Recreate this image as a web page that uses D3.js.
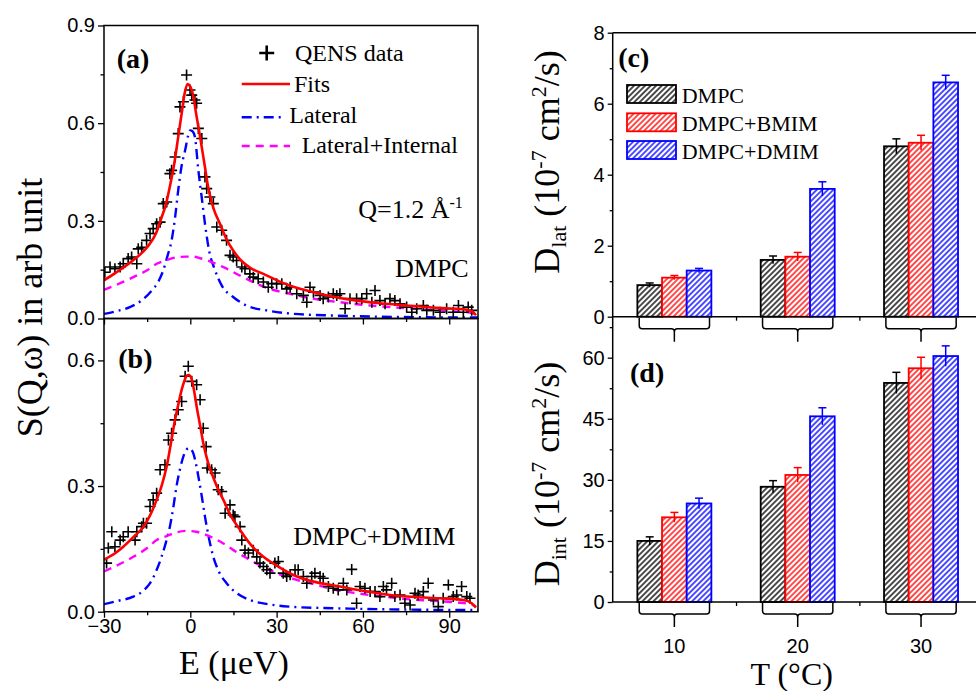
<!DOCTYPE html>
<html><head><meta charset="utf-8">
<script src="https://cdn.jsdelivr.net/npm/d3@7"></script>
<style>body{margin:0;background:#fff}svg{display:block}</style>
</head><body>
<svg id="chart" width="976" height="691"></svg>
<script>
// ---------- Panel (a): DMPC QENS spectrum ----------
const dataA_E = [-29.7,-27.9,-26.2,-24.4,-23.3,-21.6,-20.4,-18.6,-18.1,-16.9,
 -15.2,-14.0,-12.9,-11.7,-10.5,-9.4,-8.2,-7.1,-6.5,-5.3,
 -4.2,-3.6,-2.4,-1.3,-0.1,0.5,1.6,2.2,2.8,4.0,
 5.1,5.7,6.8,8.0,9.2,10.9,12.6,13.8,14.9,16.1,
 17.9,19.0,20.7,21.9,23.6,25.4,27.1,28.3,30.0,31.8,
 33.5,34.7,37.0,39.3,40.5,41.6,42.8,45.1,46.2,48.0,
 49.7,50.9,52.0,53.8,55.5,57.8,59.6,61.3,63.1,64.2,
 65.9,67.7,69.4,71.1,72.9,75.2,77.0,78.7,81.0,82.2,
 84.5,86.8,89.1,91.4,93.2,94.9,96.6,97.8];
const dataA_S = [0.142,0.158,0.153,0.158,0.168,0.184,0.189,0.168,0.214,0.219,
 0.240,0.261,0.276,0.291,0.296,0.353,0.358,0.445,0.455,0.496,
 0.568,0.650,0.666,0.748,0.702,0.686,0.671,0.661,0.584,0.553,
 0.435,0.399,0.373,0.353,0.281,0.271,0.240,0.194,0.189,0.178,
 0.158,0.153,0.137,0.127,0.122,0.112,0.096,0.107,0.107,0.107,
 0.091,0.096,0.076,0.071,0.050,0.096,0.081,0.071,0.061,0.066,
 0.076,0.071,0.076,0.030,0.061,0.061,0.061,0.076,0.050,0.086,
 0.055,0.045,0.061,0.055,0.045,0.035,0.019,0.030,0.040,0.025,
 0.025,0.019,0.030,0.019,0.040,0.019,0.035,0.025];
const fitA_E = [-30,-26,-23,-19,-15,-12,-10,-8.5,-7,-5.5,-4.2,-3,-2,-1,0,1,2,3.4,5,6.2,8,10.3,12.5,14.9,18,21,25.4,30,35,40.5,48,57.8,66,75.2,84,92.6,96,98,99.3];
const fitA_S = [0.117,0.14,0.158,0.185,0.219,0.26,0.31,0.35,0.41,0.48,0.558,0.63,0.69,0.72,0.712,0.685,0.63,0.558,0.47,0.404,0.34,0.291,0.245,0.209,0.175,0.155,0.137,0.118,0.10,0.086,0.07,0.055,0.047,0.04,0.034,0.03,0.027,0.022,0.01];
const latA_E = [-30,-25,-21,-17,-13.4,-11,-9.4,-8,-6.5,-5.3,-4.2,-3,-1.8,-0.8,0,0.8,1.6,2.8,4,5.1,6.5,8.6,11,14.9,20,26.5,35,50,70,100];
const latA_S = [0.014,0.024,0.035,0.055,0.086,0.115,0.148,0.19,0.24,0.31,0.394,0.47,0.517,0.56,0.578,0.575,0.558,0.455,0.37,0.291,0.21,0.148,0.10,0.066,0.038,0.025,0.015,0.009,0.005,0.003];
const intA_E = [-30,-25,-19.8,-15,-11.7,-8,-4.8,-1.3,1,3.4,7,11.5,17,23.1,28,34.7,42,52,60,69.4,78,86.8,92,97.2,99.3];
const intA_S = [0.088,0.106,0.127,0.148,0.168,0.18,0.188,0.19,0.19,0.185,0.175,0.158,0.133,0.107,0.09,0.076,0.062,0.05,0.042,0.035,0.03,0.025,0.022,0.018,0.012];

// ---------- Panel (b): DMPC+DMIM QENS spectrum ----------
const dataB_E = [-29.1,-27.3,-28.5,-26.2,-24.4,-23.3,-21.6,-19.2,-18.6,-16.9,
 -16.3,-15.2,-14.0,-12.9,-11.7,-10.5,-8.8,-7.6,-6.5,-5.3,
 -4.2,-3.0,-1.8,-0.7,0.5,2.2,3.4,4.5,5.5,5.9,
 7.4,8.6,9.7,10.9,12.1,13.8,14.9,15.5,17.3,17.9,
 19.0,20.2,21.9,23.1,24.2,25.4,26.6,27.7,29.4,30.6,
 32.3,33.5,34.7,36.4,37.5,39.3,40.5,42.2,43.3,45.1,
 46.2,48.0,49.7,51.4,53.2,54.4,56.1,57.8,59.0,60.7,
 62.5,64.2,65.9,67.1,68.2,70.0,71.1,72.9,74.6,76.4,
 78.1,79.2,81.0,82.7,84.5,86.2,87.9,89.7,91.4,92.6,
 94.3,96.1,97.2];
const dataB_S = [0.116,0.191,0.152,0.155,0.171,0.179,0.191,0.171,0.191,0.203,
 0.211,0.211,0.251,0.267,0.283,0.339,0.351,0.410,0.426,0.458,
 0.482,0.502,0.562,0.586,0.550,0.542,0.506,0.438,0.394,0.343,
 0.339,0.331,0.291,0.287,0.235,0.255,0.231,0.227,0.203,0.171,
 0.147,0.140,0.147,0.131,0.116,0.108,0.100,0.092,0.116,0.120,
 0.092,0.084,0.088,0.100,0.100,0.084,0.068,0.084,0.092,0.084,
 0.080,0.060,0.056,0.052,0.068,0.052,0.101,0.020,0.060,0.056,
 0.048,0.048,0.036,0.060,0.052,0.068,0.036,0.040,0.020,0.016,
 0.044,0.040,0.048,0.068,0.028,0.012,0.032,0.064,0.036,0.040,
 0.060,0.036,0.032];
const fitB_E = [-30,-26,-23.3,-19.8,-16.3,-14,-11.7,-10,-8.2,-6.8,-5.3,-4,-3,-2,-1.3,-0.5,0.5,1.3,2.2,3.4,4.5,6,7.4,9.5,11.5,14,17.3,21,25.4,30,37,44,52,60,69.4,78,86.8,94.9,97.8,99.3];
const fitB_S = [0.124,0.14,0.155,0.178,0.203,0.23,0.267,0.30,0.347,0.40,0.458,0.50,0.530,0.552,0.563,0.565,0.554,0.528,0.49,0.445,0.403,0.36,0.331,0.295,0.267,0.23,0.195,0.16,0.131,0.11,0.084,0.07,0.06,0.05,0.04,0.035,0.032,0.028,0.02,0.01];
const latB_E = [-30,-25,-19.8,-16,-14,-12,-10,-8.5,-7.1,-6,-4.8,-3.6,-2.4,-1.2,-0.5,0.3,1,1.9,2.8,4,5.1,6.5,8,10,12.6,16,20.7,27,34.7,45,57.8,75,100];
const latB_S = [0.018,0.026,0.036,0.052,0.068,0.095,0.131,0.165,0.203,0.245,0.299,0.34,0.371,0.388,0.391,0.388,0.379,0.355,0.323,0.275,0.227,0.175,0.131,0.095,0.068,0.045,0.028,0.018,0.012,0.009,0.007,0.005,0.004];
const intB_E = [-30,-25,-19.8,-15,-11.7,-8,-5.9,-1.3,2,4.5,8,11.5,15,19.6,25,30,37,43.9,50,57.8,66,75.2,84,92.6,97.2,99.3];
const intB_S = [0.096,0.112,0.131,0.152,0.171,0.181,0.187,0.193,0.191,0.186,0.176,0.163,0.147,0.128,0.108,0.092,0.076,0.064,0.053,0.044,0.037,0.030,0.026,0.022,0.018,0.012];

// ---------- Panels (c),(d): diffusion coefficients ----------
const temperatures = [10, 20, 30];
const seriesNames = ["DMPC", "DMPC+BMIM", "DMPC+DMIM"];
const seriesColors = ["#000000", "#ff0000", "#0000ff"];
const dlat_DMPC = [0.89, 1.60, 4.80];  const dlatErr_DMPC = [0.06, 0.11, 0.21];
const dlat_BMIM = [1.10, 1.69, 4.90];  const dlatErr_BMIM = [0.06, 0.12, 0.21];
const dlat_DMIM = [1.30, 3.60, 6.60];  const dlatErr_DMIM = [0.06, 0.20, 0.20];
const dint_DMPC = [15.0, 28.3, 53.8];  const dintErr_DMPC = [1.0, 1.5, 2.6];
const dint_BMIM = [20.8, 31.2, 57.4];  const dintErr_BMIM = [1.2, 1.8, 2.7];
const dint_DMIM = [24.2, 45.6, 60.4];  const dintErr_DMIM = [1.3, 2.1, 2.5];

// tick values
const xTicksE = [-30, 0, 30, 60, 90], xMinorE = [-15, 15, 45, 75];
const yTicksA = [0, 0.3, 0.6, 0.9], yMinorA = [0.15, 0.45, 0.75];
const yTicksB = [0, 0.3, 0.6], yMinorB = [0.15, 0.45];
const yTicksC = [0, 2, 4, 6, 8], yMinorC = [1, 3, 5, 7];
const yTicksD = [0, 15, 30, 45, 60], yMinorD = [7.5, 22.5, 37.5, 52.5, 67.5];
const tMinor = [15, 25];

// ================= drawing =================
const SERIF = "'Liberation Serif','Times New Roman',serif";
const SANS = "'Liberation Sans',Arial,sans-serif";
const svg = d3.select("#chart");
const defs = svg.append("defs");

const xE = d3.scaleLinear().domain([-30, 100]).range([104, 478]);
const yA = d3.scaleLinear().domain([0, 0.9]).range([318.5, 25.5]);
const yB = d3.scaleLinear().domain([0, 0.7]).range([611.7, 318.5]);

function styleAxis(g, fs) {
  g.select(".domain").remove();
  g.selectAll("line").attr("stroke", "#000").attr("stroke-width", 1.3);
  g.selectAll("text").attr("font-family", SANS).attr("font-size", fs).attr("fill", "#000");
}

// clip paths
[["clipA", yA], ["clipB", yB]].forEach(([id, ys]) => {
  defs.append("clipPath").attr("id", id).append("rect")
    .attr("x", xE(-30)).attr("y", ys.range()[1])
    .attr("width", xE(100) - xE(-30)).attr("height", ys.range()[0] - ys.range()[1]);
});

function drawSpectrum(ys, clip, dE, dS, fE, fS, lE, lS, iE, iS) {
  const g = svg.append("g").attr("clip-path", `url(#${clip})`);
  const line = d3.line().x(d => xE(d[0])).y(d => ys(d[1])).curve(d3.curveMonotoneX);
  g.append("path").datum(d3.zip(lE, lS)).attr("d", line).attr("fill", "none")
    .attr("stroke", "#0000ff").attr("stroke-width", 2.4).attr("stroke-dasharray", "10,5,2,5");
  g.append("path").datum(d3.zip(iE, iS)).attr("d", line).attr("fill", "none")
    .attr("stroke", "#ff00ff").attr("stroke-width", 2.4).attr("stroke-dasharray", "8,6");
  g.selectAll(".pt").data(d3.zip(dE, dS)).join("path")
    .attr("transform", d => `translate(${xE(d[0])},${ys(d[1])})`)
    .attr("d", "M-5.5,0H5.5M0,-5.5V5.5").attr("stroke", "#000").attr("stroke-width", 1.6).attr("fill", "none");
  g.append("path").datum(d3.zip(fE, fS)).attr("d", line).attr("fill", "none")
    .attr("stroke", "#ff0000").attr("stroke-width", 2.6);
}
drawSpectrum(yA, "clipA", dataA_E, dataA_S, fitA_E, fitA_S, latA_E, latA_S, intA_E, intA_S);
drawSpectrum(yB, "clipB", dataB_E, dataB_S, fitB_E, fitB_S, latB_E, latB_S, intB_E, intB_S);

// frames
[yA, yB].forEach(ys => {
  svg.append("rect").attr("x", xE(-30)).attr("y", ys.range()[1])
    .attr("width", xE(100) - xE(-30)).attr("height", ys.range()[0] - ys.range()[1])
    .attr("fill", "none").attr("stroke", "#000").attr("stroke-width", 1.5);
});

// left axes
function leftAxes(ys, major, minor) {
  const g1 = svg.append("g").attr("transform", `translate(${xE(-30)},0)`)
    .call(d3.axisLeft(ys).tickValues(major).tickFormat(d3.format(".1f")).tickSize(6).tickPadding(3));
  styleAxis(g1, 20);
  const g2 = svg.append("g").attr("transform", `translate(${xE(-30)},0)`)
    .call(d3.axisLeft(ys).tickValues(minor).tickFormat("").tickSize(3.5));
  styleAxis(g2, 20);
}
leftAxes(yA, yTicksA, yMinorA);
leftAxes(yB, yTicksB, yMinorB);
function bottomAxes(y, labels) {
  const g1 = svg.append("g").attr("transform", `translate(0,${y})`)
    .call(d3.axisBottom(xE).tickValues(xTicksE).tickFormat(labels ? d3.format("d") : "").tickSize(6).tickPadding(1));
  styleAxis(g1, 20);
  const g2 = svg.append("g").attr("transform", `translate(0,${y})`)
    .call(d3.axisBottom(xE).tickValues(xMinorE).tickFormat("").tickSize(3.5));
  styleAxis(g2, 20);
}
bottomAxes(yA.range()[0], false);
bottomAxes(yB.range()[0], true);

// legend (a)
svg.append("path").attr("transform", "translate(266.7,53)").attr("d", "M-7.5,0H7.5M0,-7.5V7.5")
  .attr("stroke", "#000").attr("stroke-width", 2.6);
const legA = [
  {t: "QENS data", x: 295, y: 61},
  {t: "Fits", x: 294, y: 91.7, c: "#ff0000", d: null, x2: 290, ly: 84},
  {t: "Lateral", x: 289.3, y: 123.3, c: "#0000ff", d: "10,5,2,5", x2: 285, ly: 117.3},
  {t: "Lateral+Internal", x: 301.7, y: 153.3, c: "#ff00ff", d: "8,6", x2: 290, ly: 146}
];
legA.forEach(o => {
  if (o.c) svg.append("line").attr("x1", 241.7).attr("x2", o.x2).attr("y1", o.ly).attr("y2", o.ly)
    .attr("stroke", o.c).attr("stroke-width", o.d ? 2.4 : 2.6).attr("stroke-dasharray", o.d);
  svg.append("text").attr("x", o.x).attr("y", o.y).attr("font-family", SERIF).attr("font-size", 24).text(o.t);
});
const qt = svg.append("text").attr("x", 358.3).attr("y", 218.3).attr("font-family", SERIF).attr("font-size", 26);
qt.append("tspan").text("Q=1.2 Å");
qt.append("tspan").attr("dy", -10).attr("font-size", 16).text("-1");
svg.append("text").attr("x", 395).attr("y", 276.7).attr("font-family", SERIF).attr("font-size", 26).text("DMPC");
svg.append("text").attr("x", 293.3).attr("y", 545).attr("font-family", SERIF).attr("font-size", 26).text("DMPC+DMIM");

// panel labels
[["(a)", 116.7, 68.3], ["(b)", 118.3, 368.3], ["(c)", 618.3, 66.7], ["(d)", 630, 381.7]].forEach(([t, x, y]) => {
  svg.append("text").attr("x", x).attr("y", y).attr("font-family", SERIF).attr("font-weight", "bold")
    .attr("font-size", 28).text(t);
});

// axis titles left
svg.append("text").attr("transform", "translate(41.5,307.5) rotate(-90)").attr("text-anchor", "middle")
  .attr("font-family", SERIF).attr("font-size", 36).text("S(Q,ω) in arb unit");
svg.append("text").attr("x", 234).attr("y", 674).attr("text-anchor", "middle")
  .attr("font-family", SERIF).attr("font-size", 34).text("E (μeV)");

// ---------- right panels ----------
const xT = d3.scaleLinear().domain([5, 35]).range([612.7, 982.7]);
const yC = d3.scaleLinear().domain([0, 8]).range([316.7, 32.7]);
const yD = d3.scaleLinear().domain([0, 70]).range([602, 316.96]);

seriesColors.forEach((c, i) => {
  const p = defs.append("pattern").attr("id", "hatch" + i).attr("patternUnits", "userSpaceOnUse")
    .attr("width", 3.9).attr("height", 3.9).attr("patternTransform", "rotate(45)");
  p.append("rect").attr("width", 3.9).attr("height", 3.9).attr("fill", "#fff");
  p.append("line").attr("x1", 1.95).attr("x2", 1.95).attr("y1", 0).attr("y2", 3.9)
    .attr("stroke", c).attr("stroke-width", 1.4);
});

function drawBars(ys, vals, errs) {
  vals.forEach((arr, i) => {
    const off = (i - 1) * 2;
    const g = svg.append("g");
    temperatures.forEach((T, j) => {
      const x0 = xT(T + off - 1), x1 = xT(T + off + 1);
      g.append("rect").attr("x", x0).attr("y", ys(arr[j])).attr("width", x1 - x0)
        .attr("height", ys(0) - ys(arr[j])).attr("fill", `url(#hatch${i})`)
        .attr("stroke", seriesColors[i]).attr("stroke-width", 1.8);
      const xc = xT(T + off), e = errs[i][j];
      g.append("line").attr("x1", xc).attr("x2", xc).attr("y1", ys(arr[j] - e)).attr("y2", ys(arr[j] + e))
        .attr("stroke", seriesColors[i]).attr("stroke-width", 1.5);
      g.append("line").attr("x1", xc - 4).attr("x2", xc + 4).attr("y1", ys(arr[j] + e)).attr("y2", ys(arr[j] + e))
        .attr("stroke", seriesColors[i]).attr("stroke-width", 1.5);
    });
  });
}
drawBars(yC, [dlat_DMPC, dlat_BMIM, dlat_DMIM], [dlatErr_DMPC, dlatErr_BMIM, dlatErr_DMIM]);
drawBars(yD, [dint_DMPC, dint_BMIM, dint_DMIM], [dintErr_DMPC, dintErr_BMIM, dintErr_DMIM]);

// right axes lines
svg.append("line").attr("x1", xT(5)).attr("x2", xT(5)).attr("y1", yC(8)).attr("y2", yD(0)).attr("stroke", "#000").attr("stroke-width", 1.5);
svg.append("line").attr("x1", xT(5)).attr("x2", xT(35)).attr("y1", yC(8)).attr("y2", yC(8)).attr("stroke", "#000").attr("stroke-width", 1.5);
[yC(0), yD(0)].forEach(y => {
  svg.append("line").attr("x1", xT(5)).attr("x2", xT(35)).attr("y1", y).attr("y2", y).attr("stroke", "#000").attr("stroke-width", 1.5);
  const g = svg.append("g").attr("transform", `translate(0,${y})`)
    .call(d3.axisBottom(xT).tickValues(tMinor).tickFormat("").tickSize(4));
  styleAxis(g, 20);
  // brackets
  temperatures.forEach(T => {
    const a = xT(T - 2.85), b = xT(T + 2.85), c = xT(T);
    const p = `M${a},${y + 1}V${y + 9}Q${a},${y + 12} ${a + 3},${y + 12}H${c - 3}Q${c},${y + 12} ${c},${y + 15}V${y + 25}` +
      `M${c},${y + 15}Q${c},${y + 12} ${c + 3},${y + 12}H${b - 3}Q${b},${y + 12} ${b},${y + 9}V${y + 1}`;
    svg.append("path").attr("d", p).attr("fill", "none").attr("stroke", "#000").attr("stroke-width", 1.5);
  });
});
function rightY(ys, major, minor) {
  const g1 = svg.append("g").attr("transform", `translate(${xT(5)},0)`)
    .call(d3.axisLeft(ys).tickValues(major).tickFormat(d3.format("d")).tickSize(5).tickPadding(3));
  styleAxis(g1, 20);
  const g2 = svg.append("g").attr("transform", `translate(${xT(5)},0)`)
    .call(d3.axisLeft(ys).tickValues(minor).tickFormat("").tickSize(3));
  styleAxis(g2, 20);
}
rightY(yC, yTicksC, yMinorC);
rightY(yD, yTicksD, yMinorD);

temperatures.forEach(T => {
  svg.append("text").attr("x", xT(T)).attr("y", 653.3).attr("text-anchor", "middle")
    .attr("font-family", SANS).attr("font-size", 20).text(T);
});
svg.append("text").attr("x", 791.7).attr("y", 685).attr("text-anchor", "middle")
  .attr("font-family", SERIF).attr("font-size", 32).text("T (°C)");

// legend (c)
const legY = [85, 113.3, 141];
seriesNames.forEach((n, i) => {
  svg.append("rect").attr("x", 627).attr("y", legY[i]).attr("width", 49).attr("height", 18)
    .attr("fill", `url(#hatch${i})`).attr("stroke", seriesColors[i]).attr("stroke-width", 1.8);
  svg.append("text").attr("x", 681.7).attr("y", legY[i] + 17.5).attr("font-family", SERIF)
    .attr("font-size", 22).text(n);
});

// right titles
function dTitle(cy, sub) {
  const t = svg.append("text").attr("transform", `translate(559,${cy}) rotate(-90)`).attr("text-anchor", "middle")
    .attr("font-family", SERIF).attr("font-size", 36);
  t.append("tspan").text("D");
  t.append("tspan").attr("font-size", 22).attr("dy", 7).text(sub);
  t.append("tspan").attr("dy", -7).text(" (10");
  t.append("tspan").attr("font-size", 22).attr("dy", -13).text("-7");
  t.append("tspan").attr("dy", 13).text(" cm");
  t.append("tspan").attr("font-size", 22).attr("dy", -13).text("2");
  t.append("tspan").attr("dy", 13).text("/s)");
}
dTitle(162, "lat");
dTitle(474, "int");
</script>
</body></html>
